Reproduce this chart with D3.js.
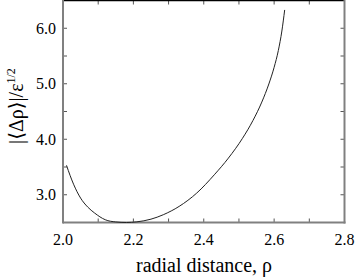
<!DOCTYPE html>
<html><head><meta charset="utf-8">
<script src="https://cdn.jsdelivr.net/npm/d3@7"></script>
<style>
body{margin:0;background:#fff;}
svg{display:block;}
</style></head>
<body>
<svg id="c" width="358" height="277" font-family="'Liberation Serif', 'Times New Roman', 'DejaVu Serif', serif"></svg>
<script>
const rho = [2.01, 2.02, 2.03, 2.05, 2.07, 2.09, 2.12, 2.15, 2.18, 2.21, 2.25, 2.285, 2.33, 2.38, 2.43, 2.47, 2.51, 2.54, 2.565, 2.585, 2.60, 2.612, 2.622, 2.63];
const dRho = [3.53, 3.35, 3.19, 2.94, 2.78, 2.67, 2.55, 2.51, 2.50, 2.512, 2.56, 2.64, 2.79, 3.03, 3.36, 3.66, 4.016, 4.34, 4.67, 4.996, 5.296, 5.60, 5.95, 6.33];
const xTicks = [2.0, 2.2, 2.4, 2.6, 2.8];
const xMinor = [2.1, 2.3, 2.5, 2.7];
const yTicks = [3.0, 4.0, 5.0, 6.0];
const yMinor = [3.5, 4.5, 5.5];
const xTitle = "radial distance, ρ";

const svg = d3.select("#c");
const L = 63, R = 344.5, T = 0.5, B = 222.5;
const x = d3.scaleLinear().domain([2.0, 2.8]).range([L, R]);
const y = d3.scaleLinear().domain([2.5, 6.5]).range([B, T]);

const tickCol = "#555";
const g = svg.append("g");
xTicks.concat(xMinor).forEach(v => {
  g.append("line").attr("x1", x(v)).attr("x2", x(v)).attr("y1", B).attr("y2", B - 4).attr("stroke", tickCol).attr("stroke-width", 1);
  g.append("line").attr("x1", x(v)).attr("x2", x(v)).attr("y1", T).attr("y2", T + 4).attr("stroke", tickCol).attr("stroke-width", 1);
});
yTicks.concat(yMinor).forEach(v => {
  g.append("line").attr("x1", L).attr("x2", L + 4).attr("y1", y(v)).attr("y2", y(v)).attr("stroke", tickCol).attr("stroke-width", 1);
  g.append("line").attr("x1", R).attr("x2", R - 4).attr("y1", y(v)).attr("y2", y(v)).attr("stroke", tickCol).attr("stroke-width", 1);
});

svg.append("line").attr("x1", L).attr("x2", R).attr("y1", T).attr("y2", T).attr("stroke", "#000").attr("stroke-width", 1.5);
svg.append("line").attr("x1", L).attr("x2", R + 1).attr("y1", B).attr("y2", B).attr("stroke", "#808080").attr("stroke-width", 2);
svg.append("line").attr("x1", L).attr("x2", L).attr("y1", 0).attr("y2", B + 1).attr("stroke", "#808080").attr("stroke-width", 2);
svg.append("line").attr("x1", R).attr("x2", R).attr("y1", 0).attr("y2", B + 1).attr("stroke", "#808080").attr("stroke-width", 2);

xTicks.forEach(v => {
  svg.append("text").attr("x", x(v)).attr("y", 245).attr("text-anchor", "middle").attr("font-size", 16).attr("fill", "#000").text(d3.format(".1f")(v));
});
yTicks.forEach(v => {
  svg.append("text").attr("x", 56).attr("y", y(v)).attr("dy", "0.35em").attr("text-anchor", "end").attr("font-size", 16).attr("fill", "#000").text(d3.format(".1f")(v));
});

svg.append("text").attr("x", 204).attr("y", 272).attr("text-anchor", "middle").attr("font-size", 20).attr("fill", "#000").text(xTitle);
const yl = svg.append("text").attr("transform", "translate(23,106) rotate(-90)").attr("text-anchor", "middle").attr("font-size", 20).attr("fill", "#000");
yl.append("tspan").text("|⟨Δρ⟩|/ε");
yl.append("tspan").attr("font-size", 12).attr("dy", -8).text("1/2");

const line = d3.line().x((d, i) => x(rho[i])).y((d, i) => y(dRho[i])).curve(d3.curveMonotoneX);
svg.append("path").datum(rho).attr("d", line).attr("fill", "none").attr("stroke", "#222").attr("stroke-width", 1);
</script>
</body></html>
